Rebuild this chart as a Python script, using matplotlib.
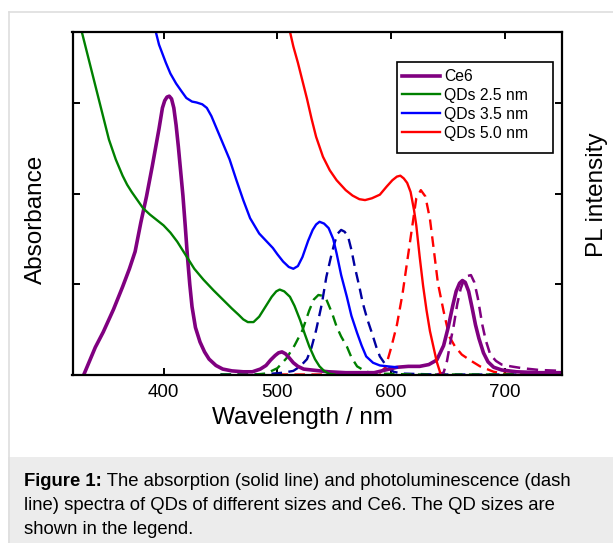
import matplotlib
matplotlib.use("Agg")
import matplotlib.pyplot as plt
from matplotlib.patches import Rectangle
from matplotlib.lines import Line2D

plt.rcParams["font.family"] = ["Liberation Sans", "DejaVu Sans"]
plt.rcParams["lines.solid_joinstyle"] = "round"
plt.rcParams["lines.dash_joinstyle"] = "round"

# ---------- data (wavelength in nm, arbitrary units) ----------
ce6_abs_nm = [330, 340, 347, 356, 364, 370, 375, 380, 385, 390, 396, 399, 401, 403, 405, 407, 409, 411,
              413, 415, 417, 419, 421, 423, 425, 428, 432, 436, 440, 446, 452, 460, 470, 478, 485,
              490, 494, 498, 501, 504, 507, 510, 514, 518, 523, 530, 545, 560, 575, 585, 595, 605,
              615, 625, 633, 640, 646, 650, 654, 657, 660, 662.5, 665, 668, 671, 674, 677, 681, 685,
              690, 697, 710, 730, 750]
ce6_abs = [0.0, 0.3, 0.47, 0.72, 0.97, 1.17, 1.36, 1.68, 1.97, 2.3, 2.72, 2.95, 3.03, 3.07, 3.08, 3.05,
           2.95, 2.76, 2.52, 2.25, 1.98, 1.65, 1.3, 1.0, 0.75, 0.52, 0.36, 0.25, 0.17, 0.1, 0.06, 0.04,
           0.03, 0.03, 0.06, 0.1, 0.16, 0.21, 0.24, 0.25, 0.23, 0.19, 0.13, 0.09, 0.06, 0.05, 0.03, 0.02,
           0.02, 0.02, 0.05, 0.08, 0.09, 0.09, 0.11, 0.16, 0.32, 0.52, 0.76, 0.92, 1.01, 1.04, 1.02,
           0.92, 0.74, 0.55, 0.4, 0.24, 0.14, 0.08, 0.05, 0.03, 0.02, 0.02]

ce6_pl_nm = [640, 646, 649, 652, 655, 658, 661, 664, 667, 670, 673, 676, 680, 683, 687, 692, 697, 705,
             715, 730, 750]
ce6_pl = [0.0, 0.02, 0.15, 0.36, 0.55, 0.78, 0.95, 1.05, 1.09, 1.1, 1.02, 0.85, 0.55, 0.38, 0.22, 0.15,
          0.11, 0.09, 0.07, 0.05, 0.04]

qd25_abs_nm = [327, 335, 344, 352, 358, 364, 368, 372, 377, 382, 388, 394, 400, 406, 412, 420, 427,
               435, 444, 452, 460, 466, 470, 474, 479, 484, 490, 495, 499, 502, 506, 511, 515, 520,
               524, 528, 533, 537, 541, 545, 550]
qd25_abs = [3.85, 3.45, 3.0, 2.6, 2.38, 2.2, 2.1, 2.02, 1.93, 1.84, 1.77, 1.71, 1.65, 1.57, 1.47, 1.31,
            1.17, 1.05, 0.93, 0.83, 0.73, 0.66, 0.61, 0.58, 0.58, 0.64, 0.76, 0.86, 0.92, 0.94, 0.92,
            0.86, 0.76, 0.6, 0.45, 0.31, 0.17, 0.09, 0.04, 0.01, 0.0]

qd25_pl_nm = [450, 480, 490, 500, 508, 515, 522, 528, 532, 536, 540, 543, 548, 552, 556, 561, 565,
              570, 578, 590, 620, 750]
qd25_pl = [0.0, 0.0, 0.01, 0.07, 0.18, 0.32, 0.49, 0.71, 0.83, 0.88, 0.87, 0.83, 0.68, 0.53, 0.42, 0.31,
           0.19, 0.09, 0.03, 0.01, 0.0, 0.0]

qd35_abs_nm = [392, 396, 402, 406, 411, 416, 420, 425, 429, 434, 438, 442, 446, 452, 458, 464, 470,
               476, 484, 490, 496, 500, 505, 510, 514, 518, 522, 527, 531, 534, 537, 541, 545, 549,
               552, 556, 561, 565, 570, 574, 578, 584, 590, 597, 605]
qd35_abs = [3.85, 3.65, 3.45, 3.33, 3.22, 3.13, 3.06, 3.02, 3.01, 2.99, 2.95, 2.86, 2.74, 2.56, 2.38,
            2.15, 1.93, 1.73, 1.56, 1.48, 1.4, 1.33, 1.25, 1.19, 1.17, 1.2, 1.3, 1.48, 1.6, 1.66, 1.69,
            1.67, 1.62, 1.5, 1.34, 1.1, 0.86, 0.65, 0.46, 0.32, 0.2, 0.13, 0.1, 0.09, 0.08]

qd35_pl_nm = [450, 480, 496, 505, 514, 520, 526, 530, 534, 539, 543, 547, 550, 553, 556, 559, 562,
              565, 568, 572, 575, 579, 583, 587, 590, 596, 602, 610, 640, 750]
qd35_pl = [0.0, 0.0, 0.01, 0.02, 0.04, 0.09, 0.17, 0.3, 0.49, 0.78, 1.08, 1.3, 1.45, 1.56, 1.6, 1.58,
           1.53, 1.38, 1.19, 0.97, 0.79, 0.61, 0.46, 0.3, 0.2, 0.09, 0.03, 0.01, 0.0, 0.0]

qd50_abs_nm = [510, 514, 518, 522, 526, 530, 534, 540, 546, 552, 560, 566, 572, 577, 583, 590, 596,
               601, 605, 608, 611, 614, 617, 620, 622, 625, 628, 631, 634, 637, 640, 643]
qd50_abs = [3.85, 3.63, 3.45, 3.25, 3.05, 2.83, 2.63, 2.41, 2.26, 2.15, 2.04, 1.98, 1.94, 1.93, 1.95,
            1.99, 2.08, 2.15, 2.19, 2.2, 2.17, 2.12, 2.02, 1.82, 1.65, 1.3, 0.98, 0.71, 0.48, 0.31,
            0.14, 0.02]

qd50_pl_nm = [500, 560, 580, 590, 595, 600, 605, 610, 614, 618, 622, 626, 630, 634, 637, 641, 646,
              651, 656, 662, 669, 678, 690, 700, 750]
qd50_pl = [0.0, 0.0, 0.0, 0.02, 0.08, 0.3, 0.55, 0.9, 1.25, 1.6, 1.95, 2.04, 1.97, 1.72, 1.42, 1.01,
           0.7, 0.42, 0.31, 0.22, 0.16, 0.09, 0.03, 0.01, 0.0]

labels = ["Ce6", "QDs 2.5 nm", "QDs 3.5 nm", "QDs 5.0 nm"]
x_ticks = [400, 500, 600, 700]
y_ticks = [0, 1, 2, 3]

caption_lines = ["The absorption (solid line) and photoluminescence (dash",
                 "line) spectra of QDs of different sizes and Ce6. The QD sizes are",
                 "shown in the legend."]

# ---------- figure ----------
W, H = 613, 543
fig = plt.figure(figsize=(W / 100, H / 100), dpi=100)

# page frame and caption band
fig.add_artist(Rectangle((8 / W, 0), 1 - 8 / W, 1 - 457 / H, transform=fig.transFigure,
                         facecolor="#ececec", edgecolor="none", zorder=0))
fig.add_artist(Line2D([8.5 / W, 8.5 / W], [0, 1 - 12 / H], transform=fig.transFigure,
                      color="#dedede", lw=1.2))
fig.add_artist(Line2D([8.5 / W, 1], [1 - 12 / H, 1 - 12 / H], transform=fig.transFigure,
                      color="#dedede", lw=1.2))

ax = fig.add_axes([72.5 / W, 1 - 374.5 / H, (562 - 72.5) / W, (374.5 - 32) / H])

dash = (4.5, 2.7)
ax.plot(qd50_pl_nm, qd50_pl, color="#ff0000", lw=1.7, dashes=dash)
ax.plot(qd35_pl_nm, qd35_pl, color="#0000a0", lw=1.7, dashes=dash)
ax.plot(qd25_pl_nm, qd25_pl, color="#008000", lw=1.7, dashes=dash)
ax.plot(ce6_pl_nm, ce6_pl, color="#800080", lw=1.8, dashes=dash)

l_ce6, = ax.plot(ce6_abs_nm, ce6_abs, color="#800080", lw=2.6)
l_25, = ax.plot(qd25_abs_nm, qd25_abs, color="#008000", lw=1.7)
l_35, = ax.plot(qd35_abs_nm, qd35_abs, color="#0000ff", lw=1.7)
l_50, = ax.plot(qd50_abs_nm, qd50_abs, color="#ff0000", lw=1.7)

ax.set_xlim(320, 750)
ax.set_ylim(0, 3.79)
ax.set_xticks(x_ticks)
ax.set_yticks(y_ticks)
ax.set_yticklabels([])
ax.tick_params(direction="in", length=5, width=1.4, top=True, right=True,
               labelsize=13.5, pad=7)
for s in ax.spines.values():
    s.set_linewidth(1.6)

ax.set_xlabel("Wavelength / nm", fontsize=17.5)
ax.xaxis.set_label_coords((303 - 72.5) / (562 - 72.5), -0.095)

fig.text(36 / W, 1 - 219 / H, "Absorbance", rotation=90, fontsize=17.5,
         ha="center", va="center")
fig.text(597 / W, 1 - 195 / H, "PL intensity", rotation=90, fontsize=17.5,
         ha="center", va="center")

# legend: plain entries with a hand-drawn box (box is taller than the entries)
ax.legend([l_ce6, l_25, l_35, l_50], labels, loc="upper left",
          bbox_to_anchor=((401.7 - 72.5) / 489.5, (374.5 - 69) / 342.5),
          frameon=False, fontsize=11.3, handlelength=2.44, handletextpad=0.25,
          labelspacing=0.25, borderpad=0, borderaxespad=0)
ax.add_patch(Rectangle(((397 - 72.5) / 489.5, (374.5 - 153) / 342.5), 155.5 / 489.5, 91 / 342.5,
                       transform=ax.transAxes, facecolor="none", edgecolor="black", lw=1.2,
                       zorder=5))

# caption
cap_size = 13.3
t0 = fig.text(24 / W, 1 - 482 / H, "Figure 1:", fontsize=cap_size, fontweight="bold", va="center")
ax.annotate(" " + caption_lines[0], xy=(1, 0.5), xycoords=t0, va="center", ha="left",
            fontsize=cap_size, annotation_clip=False)
fig.text(24 / W, 1 - 506 / H, caption_lines[1], fontsize=cap_size, va="center")
fig.text(24 / W, 1 - 529 / H, caption_lines[2], fontsize=cap_size, va="center")

fig.savefig("out.png", dpi=100)
